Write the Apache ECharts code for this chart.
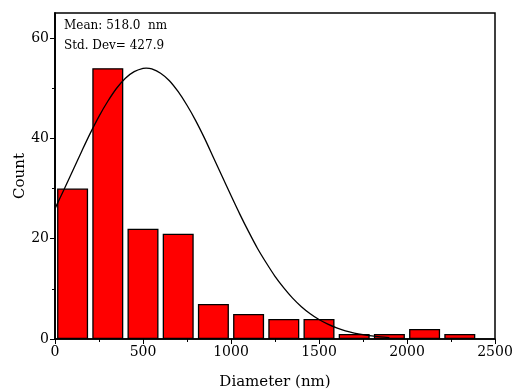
<!DOCTYPE html>
<html><head><meta charset="utf-8">
<script src="https://cdn.jsdelivr.net/npm/echarts@6/dist/echarts.min.js"></script>
<style>html,body{margin:0;padding:0;background:#fff}#c{width:512px;height:390px}</style>
</head><body><div id="c"></div>
<script>
// Histogram bins (centers, nm) and counts
const binCenters = [100, 300, 500, 700, 900, 1100, 1300, 1500, 1700, 1900, 2100, 2300];
const counts = [30, 54, 22, 21, 7, 5, 4, 4, 1, 1, 2, 1];
// Fit curve
const curveX = [0,50,100,150,200,250,300,350,400,450,500,518,550,600,650,700,750,800,850,900,950,1000,1050,1100,1150,1200,1250,1300,1350,1400,1450,1500,1550,1600,1650,1700,1750,1800,1850,1900];
const curveY = [26.0,29.7,33.5,37.3,41.0,44.4,47.4,50.0,52.0,53.3,53.95,54.0,53.85,53.0,51.5,49.3,46.6,43.5,40.0,36.2,32.4,28.6,24.9,21.4,18.1,15.2,12.5,10.2,8.15,6.45,5.04,3.88,2.95,2.21,1.63,1.19,0.86,0.61,0.43,0.29];
const xTicks = [0, 500, 1000, 1500, 2000, 2500];
const yTicks = [0, 20, 40, 60];
const yMinor = [10, 30, 50];
const statsLines = ['Mean: 518.0  nm', 'Std. Dev= 427.9'];

const FONT = 'DejaVu Serif';
const chart = echarts.init(document.getElementById('c'));
const axisLineStyle = {color: '#000', width: 1.5};
chart.setOption({
  animation: false,
  grid: {left: 55, right: 17, top: 13, bottom: 51, show: true, borderColor: '#000', borderWidth: 1.5,
         containLabel: false, outerBoundsMode: 'none'},
  xAxis: [{
    type: 'value', min: 0, max: 2500, interval: 500,
    name: 'Diameter (nm)', nameLocation: 'middle', nameGap: 36, nameMoveOverlap: false,
    nameTextStyle: {fontFamily: FONT, fontSize: 15, color: '#000'},
    axisLine: {show: true, lineStyle: axisLineStyle},
    axisTick: {show: true, inside: false, length: 5, lineStyle: {color: '#000', width: 1}},
    minorTick: {show: true, splitNumber: 2, length: 3, lineStyle: {color: '#000', width: 1}},
    axisLabel: {fontFamily: FONT, fontSize: 14, color: '#000', margin: 6, customValues: xTicks,
                formatter: v => String(v)},
    splitLine: {show: false}
  }],
  yAxis: [{
    type: 'value', min: 0, max: 65,
    name: 'Count', nameLocation: 'middle', nameGap: 35, nameRotate: 90, nameMoveOverlap: false,
    nameTextStyle: {fontFamily: FONT, fontSize: 15, color: '#000', verticalAlign: 'middle'},
    axisLine: {show: true, lineStyle: axisLineStyle},
    axisTick: {show: true, length: 5, customValues: yTicks, lineStyle: {color: '#000', width: 1}},
    axisLabel: {fontFamily: FONT, fontSize: 14, color: '#000', margin: 6, customValues: yTicks},
    splitLine: {show: false}
  }, {
    type: 'value', min: 0, max: 65, position: 'left', offset: 0,
    axisLine: {show: true, lineStyle: axisLineStyle},
    axisTick: {show: true, length: 3, customValues: yMinor, lineStyle: {color: '#000', width: 1}},
    axisLabel: {show: false},
    splitLine: {show: false}
  }],
  graphic: statsLines.map((t, i) => ({
    type: 'text', left: 64, top: 20 + i * 20,
    style: {text: t, fontFamily: FONT, fontSize: 12, fill: '#000'}
  })),
  series: [{
    type: 'bar',
    data: binCenters.map((c, i) => [c, counts[i]]),
    barWidth: 31,
    itemStyle: {color: '#ff0000', borderColor: '#000', borderWidth: 1.3},
    z: 2
  }, {
    type: 'line',
    data: curveX.map((x, i) => [x, curveY[i]]),
    smooth: 0.3, showSymbol: false, symbol: 'none',
    lineStyle: {color: '#000', width: 1.3},
    z: 3
  }]
});
</script></body></html>
